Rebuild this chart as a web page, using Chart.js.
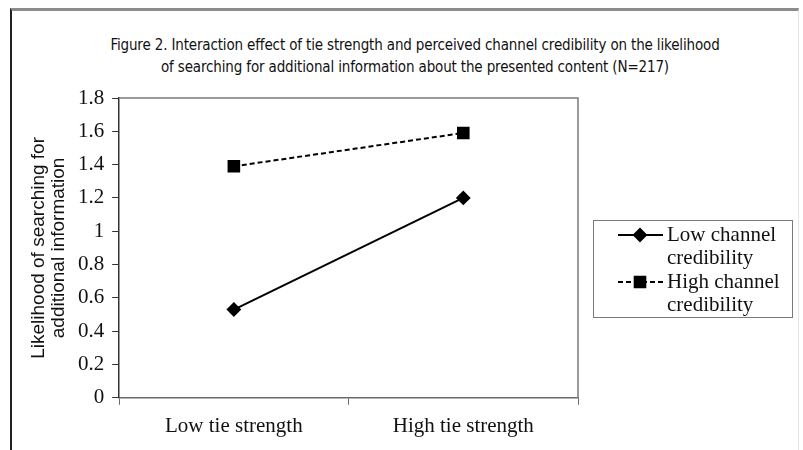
<!DOCTYPE html>
<html>
<head>
<meta charset="utf-8">
<script src="https://cdn.jsdelivr.net/npm/chart.js@4/dist/chart.umd.min.js"></script>
<style>
  html, body { margin: 0; padding: 0; background: #fff; }
  #wrap { position: relative; width: 803px; height: 450px; overflow: hidden; }
  #frame {
    position: absolute; left: 10px; top: 8px; width: 789px; height: 450px;
    border-top: 3px solid #8c8c8c; border-left: 2px solid #222; border-right: 1px solid #e4e4e4;
    box-sizing: border-box;
  }
  #title {
    position: absolute; left: 15px; width: 800px; top: 34px; text-align: center;
    font-family: "DejaVu Sans Condensed", "Liberation Sans Narrow", sans-serif;
    font-size: 15px; line-height: 22px; color: #111; letter-spacing: -0.15px;
  }
  canvas { position: absolute; left: 0; top: 0; }
</style>
</head>
<body>
<div id="wrap">
  <div id="frame"></div>
  <div id="title">Figure 2. Interaction effect of tie strength and perceived channel credibility on the likelihood<br>of searching for additional information about the presented content (N=217)</div>
  <canvas id="chart" width="803" height="450"></canvas>
</div>
<script>
// ── Data ─────────────────────────────────────────────────────
const categories   = ['Low tie strength', 'High tie strength'];
const lowCredVals  = [0.53, 1.20];
const highCredVals = [1.39, 1.59];
const seriesNames  = [['Low channel', 'credibility'], ['High channel', 'credibility']];
const yTicks       = [0, 0.2, 0.4, 0.6, 0.8, 1, 1.2, 1.4, 1.6, 1.8];
const yTitle       = ['Likelihood of searching for', 'additional information'];

const SERIF = '"Liberation Serif", "Times New Roman", serif';

// ── Plot frame (top/right border of the plot area) ──────────
const plotFrame = {
  id: 'plotFrame',
  beforeDatasetsDraw(chart) {
    const { ctx, chartArea: a } = chart;
    ctx.save();
    ctx.strokeStyle = '#7a7a7a';
    ctx.lineWidth = 1.5;
    ctx.beginPath();
    ctx.moveTo(a.left, a.top);
    ctx.lineTo(a.right, a.top);
    ctx.lineTo(a.right, a.bottom);
    ctx.stroke();
    ctx.restore();
  }
};

// ── Boxed legend on the right, drawn from the datasets ──────
const boxLegend = {
  id: 'boxLegend',
  afterDraw(chart) {
    const { ctx } = chart;
    const box = { x: 593, y: 220, w: 199, h: 97 };
    ctx.save();
    ctx.strokeStyle = '#7a7a7a';
    ctx.lineWidth = 1;
    ctx.strokeRect(box.x + 0.5, box.y + 0.5, box.w, box.h);
    ctx.font = '21px ' + SERIF;
    ctx.fillStyle = '#111';
    ctx.textBaseline = 'middle';
    chart.data.datasets.forEach((ds, i) => {
      const y0 = 235 + i * 47;
      ctx.strokeStyle = ds.borderColor;
      ctx.lineWidth = ds.borderWidth;
      ctx.setLineDash(ds.borderDash || []);
      ctx.beginPath();
      ctx.moveTo(618, y0);
      ctx.lineTo(663, y0);
      ctx.stroke();
      ctx.setLineDash([]);
      Chart.helpers.drawPoint(ctx, {
        pointStyle: ds.pointStyle, radius: ds.pointRadius, borderWidth: 1
      }, 640, y0);
      ctx.fillStyle = '#000';
      ctx.fill();
      ctx.fillStyle = '#111';
      seriesNames[i].forEach((line, j) => ctx.fillText(line, 667, y0 + j * 23));
    });
    ctx.restore();
  }
};

new Chart(document.getElementById('chart'), {
  type: 'line',
  data: {
    labels: categories,
    datasets: [
      {
        label: seriesNames[0].join(' '),
        data: lowCredVals,
        borderColor: '#000', backgroundColor: '#000',
        borderWidth: 2, pointStyle: 'rectRot', pointRadius: 6,
        pointBackgroundColor: '#000', pointBorderColor: '#000', tension: 0
      },
      {
        label: seriesNames[1].join(' '),
        data: highCredVals,
        borderColor: '#000', backgroundColor: '#000',
        borderWidth: 2, borderDash: [5, 3], pointStyle: 'rect', pointRadius: 7.5,
        pointBackgroundColor: '#000', pointBorderColor: '#000', tension: 0
      }
    ]
  },
  options: {
    responsive: false,
    animation: false,
    layout: { padding: { top: 98, right: 225, bottom: 2, left: 29 } },
    plugins: {
      legend: { display: false },
      title: { display: false },
      tooltip: { enabled: false }
    },
    scales: {
      x: {
        offset: true,
        border: { color: '#6a6a6a', width: 1.5 },
        grid: { offset: true, drawOnChartArea: false, tickLength: 7, color: '#6a6a6a' },
        ticks: { color: '#111', padding: 9, font: { family: SERIF, size: 21 } }
      },
      y: {
        min: 0, max: 1.8,
        afterBuildTicks: axis => { axis.ticks = yTicks.map(v => ({ value: v })); },
        border: { color: '#333', width: 1.5 },
        grid: { drawOnChartArea: false, tickLength: 7, color: '#333' },
        ticks: {
          color: '#111', padding: 8, font: { family: SERIF, size: 21 },
          callback: v => String(+v.toFixed(1))
        },
        title: {
          display: true, text: yTitle, color: '#111', padding: { top: 0, bottom: 1 },
          font: { family: '"Liberation Sans", Arial, sans-serif', size: 19, lineHeight: 1.05 }
        }
      }
    }
  },
  plugins: [plotFrame, boxLegend]
});
</script>
</body>
</html>
